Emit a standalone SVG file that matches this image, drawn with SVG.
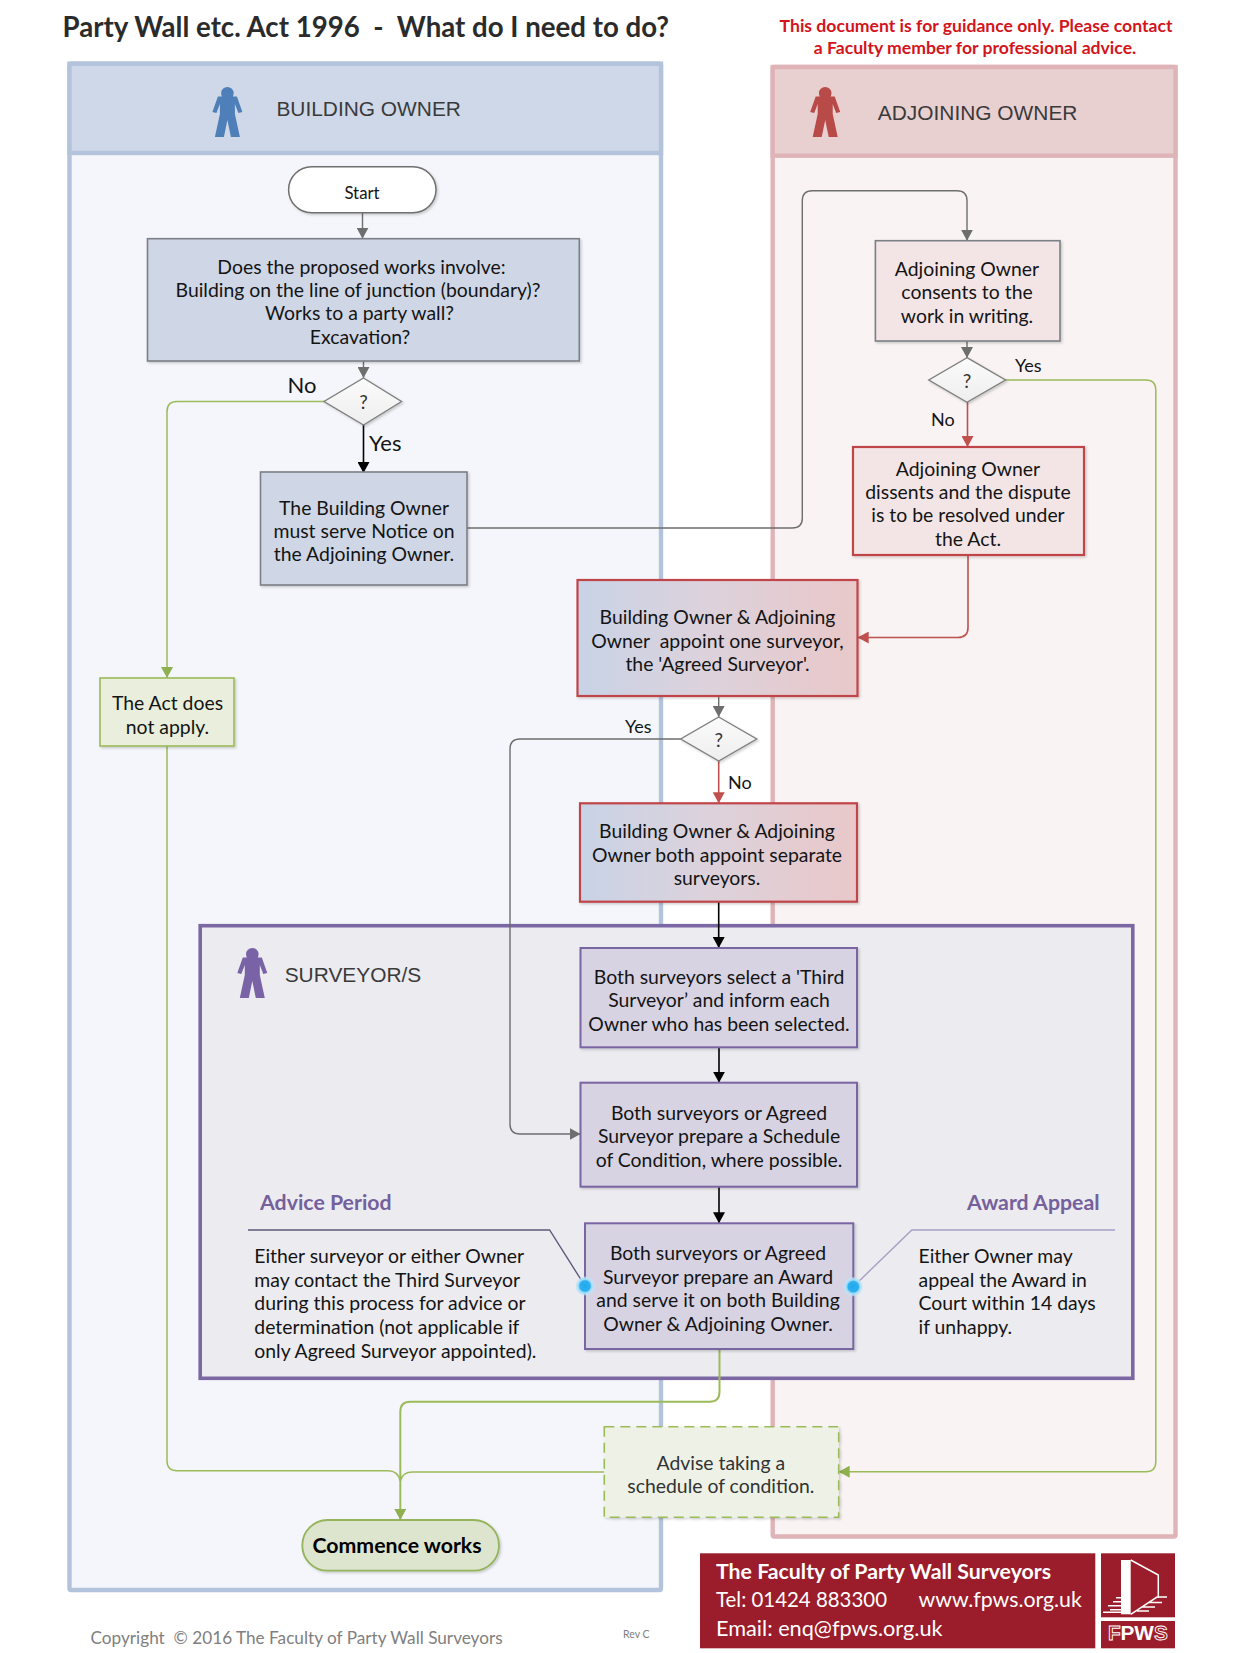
<svg xmlns="http://www.w3.org/2000/svg" width="1240" height="1653" viewBox="0 0 1240 1653">
<style>
text{font-family:Lato,"Liberation Sans",sans-serif;fill:#141414;white-space:pre}
.b{font-size:19.4px;text-anchor:middle}
.l{font-size:19.4px}
.h{font-family:"Liberation Sans",Arial,sans-serif;font-size:20.9px;fill:#3a3a3a}
.t{font-size:27.65px;font-weight:700;fill:#2b2b2b}
.r{font-size:17.6px;font-weight:700;fill:#d3141c;text-anchor:middle}
.s{font-size:18px}
.q{font-size:19px;text-anchor:middle;fill:#333}
.p{font-size:21.3px;font-weight:700;fill:#74609c}
.f{font-size:21px;fill:#fff}
.c{fill:none;stroke-width:1.4}
.gy{stroke:#6e6e6e}.bk{stroke:#000;stroke-width:1.6}.rd{stroke:#c0504d;stroke-width:1.6}.gn{stroke:#9bbb59;stroke-width:1.5}
.bx{stroke:#7b7f86;stroke-width:1.6;filter:url(#sh)}
.rbx{stroke:#c0454a;stroke-width:2.2;filter:url(#sh)}
.pbx{fill:#d7d3e3;stroke:#7a65a3;stroke-width:2;filter:url(#sh)}
.dm{fill:url(#dg);stroke:#7f7f7f;stroke-width:1.4;filter:url(#sh)}
</style>
<defs>
<linearGradient id="mix"><stop offset="0" stop-color="#c8d3e6"/><stop offset="0.45" stop-color="#dcd2dc"/><stop offset="1" stop-color="#e9c8c9"/></linearGradient>
<linearGradient id="dg" x1="0" y1="0" x2="0" y2="1"><stop offset="0" stop-color="#fbfbfb"/><stop offset="1" stop-color="#eeeeee"/></linearGradient>
<radialGradient id="dot"><stop offset="0" stop-color="#1ea8ee"/><stop offset="0.55" stop-color="#2fb0f0"/><stop offset="0.7" stop-color="#9fdcf8"/><stop offset="1" stop-color="#c4e8f8" stop-opacity="0.6"/></radialGradient>
<filter id="sh" x="-5%" y="-5%" width="112%" height="115%"><feDropShadow dx="1.5" dy="1.5" stdDeviation="1" flood-color="#000" flood-opacity="0.18"/></filter>
<marker id="ag" markerUnits="userSpaceOnUse" markerWidth="12" markerHeight="12" refX="11" refY="6" orient="auto"><path d="M0 0L11 6L0 12Z" fill="#6e6e6e"/></marker>
<marker id="ak" markerUnits="userSpaceOnUse" markerWidth="12" markerHeight="12" refX="11" refY="6" orient="auto"><path d="M0 0L11 6L0 12Z" fill="#000"/></marker>
<marker id="ar" markerUnits="userSpaceOnUse" markerWidth="12" markerHeight="12" refX="11" refY="6" orient="auto"><path d="M0 0L11 6L0 12Z" fill="#c0504d"/></marker>
<marker id="an" markerUnits="userSpaceOnUse" markerWidth="12" markerHeight="12" refX="11" refY="6" orient="auto"><path d="M0 0L11 6L0 12Z" fill="#8eb04f"/></marker>
<path id="man" d="M-9.5 9.5L9.5 9.5L15 25L11 26L7.5 17L7.5 27L12.5 50L3.5 50L0 33L-3.5 50L-12.5 50L-7.5 27L-7.5 17L-11 26L-15 25Z M6.3 6.3A6.3 6.3 0 1 1 -6.3 6.3A6.3 6.3 0 1 1 6.3 6.3Z"/>
</defs>
<rect width="1240" height="1653" fill="#fff"/>

<text class="t" x="62.5" y="37">Party Wall etc. Act 1996  -  What do I need to do?</text>
<text class="r" x="976" y="32">This document is for guidance only. Please contact</text>
<text class="r" x="975" y="54">a Faculty member for professional advice.</text>

<g id="lane-building">
<rect x="69.5" y="63.7" width="591.5" height="1526.3" fill="#f4f6fb" stroke="#b4c3dc" stroke-width="4.4" rx="1.5"/>
<rect x="69.5" y="63.7" width="591.5" height="89.3" fill="#cfd8e8" stroke="#b4c3dc" stroke-width="4.4"/>
<use href="#man" x="227.4" y="87" fill="#4f7fb8"/>
<text class="h" x="276.4" y="116">BUILDING OWNER</text>
</g>
<g id="lane-adjoining">
<rect x="772.7" y="67" width="402.8" height="1469.5" fill="#f9f3f3" stroke="#dfb4b9" stroke-width="4.4" rx="1.5"/>
<rect x="772.7" y="67" width="402.8" height="88.7" fill="#e8cfd0" stroke="#dfb4b9" stroke-width="4.4"/>
<use href="#man" x="825.2" y="87" fill="#b84a48"/>
<text class="h" x="877.8" y="120">ADJOINING OWNER</text>
</g>
<g id="lane-surveyor">
<rect x="200.2" y="925.7" width="932.6" height="452.6" fill="#ecebf0" stroke="#7a67a3" stroke-width="3.6"/>
<use href="#man" x="252.3" y="948" fill="#7a62a6"/>
<text class="h" x="284.7" y="982">SURVEYOR/S</text>
</g>

<g id="connectors" class="c">
<path class="c gy" d="M362.5 213V238.7" marker-end="url(#ag)"/>
<path class="c gy" d="M363.5 361V378" marker-end="url(#ag)"/>
<path class="c bk" d="M363.5 424V473" marker-end="url(#ak)"/>
<path class="c gn" d="M324 401.5H177Q167 401.5 167 411.5V678" marker-end="url(#an)"/>
<path class="c gn" d="M167 746V1460.7Q167 1470.7 177 1470.7H388Q398 1470.7 400.3 1481"/>
<path class="c gn" d="M604.3 1472H412.5Q402.5 1472 400.3 1481"/>
<path class="c gy" d="M467 528H792.3Q802.3 528 802.3 518V200.7Q802.3 190.7 812.3 190.7H957Q967 190.7 967 200.7V240.7" marker-end="url(#ag)"/>
<path class="c gy" d="M967 341V358" marker-end="url(#ag)"/>
<path class="c rd" d="M967.5 402V447" marker-end="url(#ar)"/>
<path class="c gn" d="M1005.5 380H1145.8Q1155.8 380 1155.8 390V1461.7Q1155.8 1471.7 1145.8 1471.7H838.7" marker-end="url(#an)"/>
<path class="c rd" d="M968 555V627.5Q968 637.5 958 637.5H857.7" marker-end="url(#ar)"/>
<path class="c gy" d="M718.7 696V717" marker-end="url(#ag)"/>
<path class="c gy" d="M680.7 739H520Q510 739 510 749V1124Q510 1134 520 1134H580.5" marker-end="url(#ag)"/>
<path class="c rd" d="M718.7 761V803.3" marker-end="url(#ar)"/>
<path class="c bk" d="M718.7 901.7V948" marker-end="url(#ak)"/>
<path class="c bk" d="M719 1047.3V1082.7" marker-end="url(#ak)"/>
<path class="c bk" d="M719 1186.7V1223.3" marker-end="url(#ak)"/>
<path class="c gn" style="stroke-width:2" d="M719.5 1349V1391.7Q719.5 1401.7 709.5 1401.7H410.3Q400.3 1401.7 400.3 1411.7V1520" marker-end="url(#an)"/>
<path class="c" stroke="#5f5a7a" stroke-width="1.5" d="M248 1230H549.6L585 1286"/>
<path class="c" stroke="#a79fc4" stroke-width="1.5" d="M853.3 1286.7L911.8 1230H1115"/>
</g>

<g id="start"><rect x="288.6" y="166.7" width="147.4" height="46" rx="23" fill="#fff" stroke="#6f6f6f" stroke-width="1.5" filter="url(#sh)"/><text class="b" style="font-size:16.8px" x="362" y="199">Start</text></g>
<g id="q-works"><rect class="bx" x="147.5" y="238.7" width="431.8" height="122.3" fill="#cfd7e6"/>
<text class="b"><tspan x="361.5" y="273.5">Does the proposed works involve:</tspan><tspan x="358" y="297.3">Building on the line of junction (boundary)?</tspan><tspan x="359.5" y="320">Works to a party wall?</tspan><tspan x="360" y="344">Excavation?</tspan></text></g>
<g id="d1"><path class="dm" d="M363.5 378L401.5 401.5L363.5 425L324 401.5Z"/><text class="q" x="363.5" y="409">?</text></g>
<text id="lbl-no1" x="287.5" y="393" style="font-size:22px">No</text>
<text id="lbl-yes1" x="369" y="451" style="font-size:22px">Yes</text>
<g id="notice"><rect class="bx" x="260.5" y="472" width="206.5" height="113" fill="#cfd7e6"/>
<text class="b"><tspan x="364" y="514.5">The Building Owner</tspan><tspan x="364" y="538">must serve Notice on</tspan><tspan x="364" y="561">the Adjoining Owner.</tspan></text></g>
<g id="act"><rect x="100" y="678" width="134" height="68" fill="#e9efdc" stroke="#9bbb59" stroke-width="1.6" filter="url(#sh)"/>
<text class="b"><tspan x="167.5" y="709.5">The Act does</tspan><tspan x="167.5" y="733.5">not apply.</tspan></text></g>
<g id="consent"><rect class="bx" x="875.4" y="240.7" width="184.6" height="100.3" fill="#f3e5e6"/>
<text class="b"><tspan x="967" y="275.8">Adjoining Owner</tspan><tspan x="967" y="299.3">consents to the</tspan><tspan x="967" y="322.7">work in writing.</tspan></text></g>
<g id="d2"><path class="dm" d="M967 357.7L1005.5 380L967 402.3L928.8 380Z"/><text class="q" x="967" y="388">?</text></g>
<text id="lbl-yes2" class="s" x="1015" y="372">Yes</text>
<text id="lbl-no2" class="s" x="931" y="426">No</text>
<g id="dissent"><rect class="rbx" x="853" y="447" width="231" height="108" fill="#f3e5e6"/>
<text class="b"><tspan x="968" y="475.5">Adjoining Owner</tspan><tspan x="968" y="499">dissents and the dispute</tspan><tspan x="968" y="522">is to be resolved under</tspan><tspan x="968" y="545.5">the Act.</tspan></text></g>
<g id="agreed"><rect class="rbx" x="577.5" y="580" width="280" height="116" fill="url(#mix)"/>
<text class="b"><tspan x="717.5" y="624">Building Owner &amp; Adjoining</tspan><tspan x="717.5" y="648">Owner  appoint one surveyor,</tspan><tspan x="717.5" y="671">the 'Agreed Surveyor'.</tspan></text></g>
<g id="d3"><path class="dm" d="M718.7 717L756.7 739L718.7 761L680.7 739Z"/><text class="q" x="718.7" y="747">?</text></g>
<text id="lbl-yes3" class="s" x="625" y="733">Yes</text>
<text id="lbl-no3" class="s" x="728" y="789">No</text>
<g id="separate"><rect class="rbx" x="580" y="803.3" width="277" height="98.4" fill="url(#mix)"/>
<text class="b"><tspan x="717" y="838">Building Owner &amp; Adjoining</tspan><tspan x="717" y="862">Owner both appoint separate</tspan><tspan x="717" y="885">surveyors.</tspan></text></g>
<g id="third"><rect class="pbx" x="580.5" y="948" width="276.5" height="99.3"/>
<text class="b"><tspan x="719" y="984">Both surveyors select a 'Third</tspan><tspan x="719" y="1007">Surveyor’ and inform each</tspan><tspan x="719" y="1030.5">Owner who has been selected.</tspan></text></g>
<g id="schedule"><rect class="pbx" x="580.5" y="1082.7" width="276.5" height="104"/>
<text class="b"><tspan x="719" y="1120">Both surveyors or Agreed</tspan><tspan x="719" y="1143.3">Surveyor prepare a Schedule</tspan><tspan x="719" y="1166.7">of Condition, where possible.</tspan></text></g>
<g id="award"><rect class="pbx" x="585" y="1223.3" width="268.3" height="125.7"/>
<text class="b"><tspan x="718" y="1260">Both surveyors or Agreed</tspan><tspan x="718" y="1283.5">Surveyor prepare an Award</tspan><tspan x="718" y="1306.5">and serve it on both Building</tspan><tspan x="718" y="1331">Owner &amp; Adjoining Owner.</tspan></text>
<circle cx="585" cy="1286" r="9.5" fill="url(#dot)"/><circle cx="853.3" cy="1286.7" r="9.5" fill="url(#dot)"/></g>
<g id="advice"><text class="p" x="260" y="1210">Advice Period</text>
<text class="l"><tspan x="254.3" y="1262.7">Either surveyor or either Owner</tspan><tspan x="254.3" y="1287">may contact the Third Surveyor</tspan><tspan x="254.3" y="1310.3">during this process for advice or</tspan><tspan x="254.3" y="1333.7">determination (not applicable if</tspan><tspan x="254.3" y="1357.5">only Agreed Surveyor appointed).</tspan></text></g>
<g id="appeal"><text class="p" x="967" y="1210">Award Appeal</text>
<text class="l"><tspan x="918.5" y="1263.3">Either Owner may</tspan><tspan x="918.5" y="1286.7">appeal the Award in</tspan><tspan x="918.5" y="1310">Court within 14 days</tspan><tspan x="918.5" y="1333.5">if unhappy.</tspan></text></g>
<g id="advise"><rect x="604.3" y="1426.7" width="234.4" height="90.6" fill="#eef2e6" stroke="#9bbb59" stroke-width="1.6" stroke-dasharray="10 6" filter="url(#sh)"/>
<text class="b" style="fill:#333"><tspan x="720.8" y="1469.5">Advise taking a</tspan><tspan x="720.8" y="1492.7">schedule of condition.</tspan></text></g>
<g id="commence"><rect x="302.3" y="1520" width="196.7" height="50.7" rx="25.3" fill="#dde5cf" stroke="#94b35a" stroke-width="1.8" filter="url(#sh)"/><text x="397" y="1552.5" style="font-size:21.3px;font-weight:700;text-anchor:middle;fill:#000">Commence works</text></g>

<g id="footer"><rect x="700" y="1553.3" width="395.3" height="95" fill="#9b1c2a"/>
<text class="f" x="716" y="1579" style="font-weight:700;font-size:21.3px">The Faculty of Party Wall Surveyors</text>
<text class="f" x="716" y="1607.3" textLength="171" lengthAdjust="spacingAndGlyphs">Tel: 01424 883300</text><text class="f" x="918.5" y="1607.3" style="font-size:21.3px">www.fpws.org.uk</text>
<text class="f" x="716" y="1636" style="font-size:21.7px">Email: enq@fpws.org.uk</text></g>
<g id="logo"><rect x="1101" y="1553.3" width="74" height="64" fill="#9b1c2a"/><rect x="1101" y="1621" width="74" height="27.3" fill="#9b1c2a"/>
<path d="M1121 1560H1130.7V1614.3H1121Z" fill="#fff"/>
<path d="M1130.7 1560L1158.3 1575V1598M1130.7 1614.3L1157 1597H1167M1148 1602.5H1162M1142 1607H1155M1137 1611H1149M1121 1597.7H1116M1121 1601.7H1113M1121 1605.7H1108M1121 1609.7H1110M1121 1612.3H1103" fill="none" stroke="#fff" stroke-width="1.5"/>
<text x="1137.8" y="1639.5" style="font-family:'Liberation Sans',sans-serif;font-size:20.7px;font-weight:700;fill:#fff;text-anchor:middle"><tspan style="fill:#9b1c2a;stroke:#fff;stroke-width:.9">F</tspan>PW<tspan style="fill:#9b1c2a;stroke:#fff;stroke-width:.9">S</tspan></text></g>
<g id="copyright"><text x="90.5" y="1644.3" style="font-size:17.2px;fill:#808080">Copyright  © 2016 The Faculty of Party Wall Surveyors</text>
<text x="623" y="1638" style="font-size:10.5px;fill:#808080">Rev C</text></g>
</svg>
